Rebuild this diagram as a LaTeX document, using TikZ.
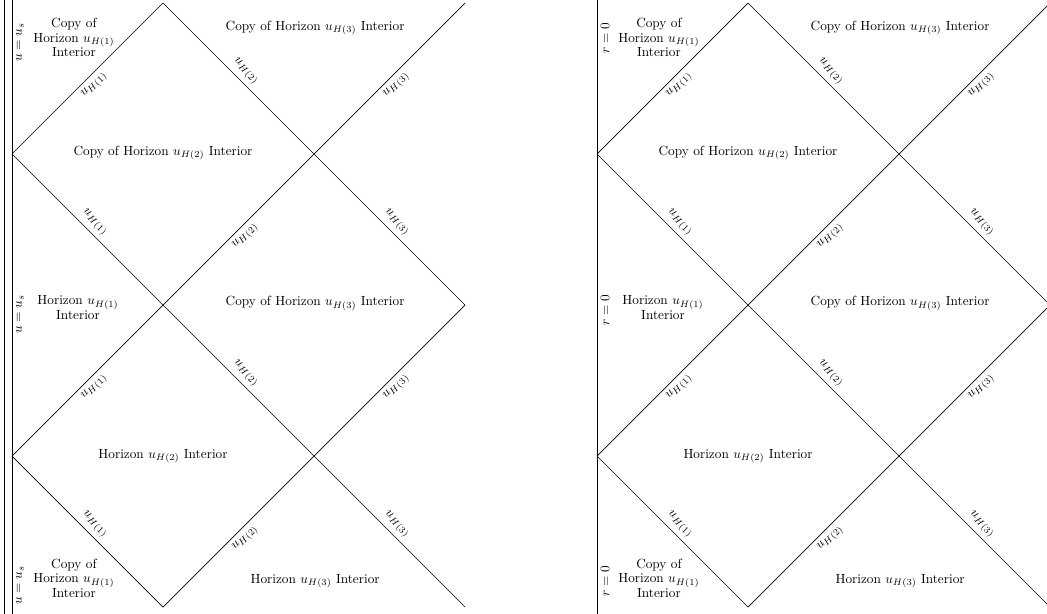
\documentclass[tikz,border=0pt]{standalone}
\usepackage{amsmath}
\usetikzlibrary{calc}

\begin{document}
\begin{tikzpicture}[x=4cm,y=4cm,line width=0.5pt,
		hlbl/.style={sloped,midway},
		region/.style={align=center,execute at begin node=\setlength{\baselineskip}{11pt}},
		bnd/.style={rotate=90,anchor=east}]
	\useasboundingbox (-0.0795,-0.046) rectangle (6.854,4.02);
	
	% Diagram kiri: batas u = u_s
	\coordinate (BotS) at (0,-0.06);
	\coordinate (TopS) at (0,4.03);
	\coordinate (ULS) at (0,3);
	\coordinate (LLS) at (0,1);
	\coordinate (TS) at (1,4);
	\coordinate (BS) at (1,0);
	\coordinate (MS) at (1,2);
	\coordinate (UCS) at (2,3);
	\coordinate (LCS) at (2,1);
	\coordinate (RS) at (3,2);
	\coordinate (URS) at (3,4);
	\coordinate (LRS) at (3,0);
	
	% batas ganda
	\draw (BotS)--(TopS);
	\draw[line width=0.8pt] ($(BotS)+(-0.05,0)$)--($(TopS)+(-0.05,0)$);
	
	% horizon
	\draw (ULS) -- node[hlbl,below] (a1S) {$u_{H(1)}$} (TS);
	\draw (TS) -- node[hlbl,above] (b2S) {$u_{H(2)}$} (UCS)
	-- node[hlbl,above] (b3S) {$u_{H(3)}$} (RS);
	\draw (ULS) -- node[hlbl,above] (c1S) {$u_{H(1)}$} (MS)
	-- node[hlbl,above] (c2S) {$u_{H(2)}$} (LCS)
	-- node[hlbl,above] (c3S) {$u_{H(3)}$} (LRS);
	\draw (LLS) -- node[hlbl,below] (d1S) {$u_{H(1)}$} (MS)
	-- node[hlbl,below] (d2S) {$u_{H(2)}$} (UCS)
	-- node[hlbl,below] (d3S) {$u_{H(3)}$} (URS);
	\draw (LLS) -- node[hlbl,above] (e1S) {$u_{H(1)}$} (BS);
	\draw (BS) -- node[hlbl,below] (f2S) {$u_{H(2)}$} (LCS)
	-- node[hlbl,below] (f3S) {$u_{H(3)}$} (RS);
	
	% daerah
	\node[region] (r1S) at (0.41,3.77) {Copy of\\Horizon $u_{H(1)}$\\Interior};
	\node[region] (r2S) at (2.007,3.834) {Copy of Horizon $u_{H(3)}$ Interior};
	\node[region] (r3S) at (1.0,3.005) {Copy of Horizon $u_{H(2)}$ Interior};
	\node[region] (r4S) at (0.437,1.983) {Horizon $u_{H(1)}$\\Interior};
	\node[region] (r5S) at (2.007,2.01) {Copy of Horizon $u_{H(3)}$ Interior};
	\node[region] (r6S) at (1.0,1.0) {Horizon $u_{H(2)}$ Interior};
	\node[region] (r7S) at (0.41,0.19) {Copy of\\Horizon $u_{H(1)}$\\Interior};
	\node[region] (r8S) at (2.007,0.172) {Horizon $u_{H(3)}$ Interior};
	
	\node[bnd] (s1S) at (0.053,3.90) {$u=u_s$};
	\node[bnd] (s2S) at (0.053,2.096) {$u=u_s$};
	\node[bnd] (s3S) at (0.053,0.305) {$u=u_s$};
	
	% Diagram kanan: batas r = 0
	\begin{scope}[shift={(3.874,0)}]
		\coordinate (BotZ) at (0,-0.06);
		\coordinate (TopZ) at (0,4.03);
		\coordinate (ULZ) at (0,3);
		\coordinate (LLZ) at (0,1);
		\coordinate (TZ) at (1,4);
		\coordinate (BZ) at (1,0);
		\coordinate (MZ) at (1,2);
		\coordinate (UCZ) at (2,3);
		\coordinate (LCZ) at (2,1);
		\coordinate (RZ) at (3,2);
		\coordinate (URZ) at (3,4);
		\coordinate (LRZ) at (3,0);
		
		\draw (BotZ)--(TopZ);
		
		\draw (ULZ) -- node[hlbl,below] (a1Z) {$u_{H(1)}$} (TZ);
		\draw (TZ) -- node[hlbl,above] (b2Z) {$u_{H(2)}$} (UCZ)
		-- node[hlbl,above] (b3Z) {$u_{H(3)}$} (RZ);
		\draw (ULZ) -- node[hlbl,above] (c1Z) {$u_{H(1)}$} (MZ)
		-- node[hlbl,above] (c2Z) {$u_{H(2)}$} (LCZ)
		-- node[hlbl,above] (c3Z) {$u_{H(3)}$} (LRZ);
		\draw (LLZ) -- node[hlbl,below] (d1Z) {$u_{H(1)}$} (MZ)
		-- node[hlbl,below] (d2Z) {$u_{H(2)}$} (UCZ)
		-- node[hlbl,below] (d3Z) {$u_{H(3)}$} (URZ);
		\draw (LLZ) -- node[hlbl,above] (e1Z) {$u_{H(1)}$} (BZ);
		\draw (BZ) -- node[hlbl,below] (f2Z) {$u_{H(2)}$} (LCZ)
		-- node[hlbl,below] (f3Z) {$u_{H(3)}$} (RZ);
		
		\node[region] (r1Z) at (0.41,3.77) {Copy of\\Horizon $u_{H(1)}$\\Interior};
		\node[region] (r2Z) at (2.007,3.834) {Copy of Horizon $u_{H(3)}$ Interior};
		\node[region] (r3Z) at (1.0,3.005) {Copy of Horizon $u_{H(2)}$ Interior};
		\node[region] (r4Z) at (0.437,1.983) {Horizon $u_{H(1)}$\\Interior};
		\node[region] (r5Z) at (2.007,2.01) {Copy of Horizon $u_{H(3)}$ Interior};
		\node[region] (r6Z) at (1.0,1.0) {Horizon $u_{H(2)}$ Interior};
		\node[region] (r7Z) at (0.41,0.19) {Copy of\\Horizon $u_{H(1)}$\\Interior};
		\node[region] (r8Z) at (2.007,0.172) {Horizon $u_{H(3)}$ Interior};
		
		\node[bnd] (s1Z) at (0.053,3.90) {$r=0$};
		\node[bnd] (s2Z) at (0.053,2.096) {$r=0$};
		\node[bnd] (s3Z) at (0.053,0.305) {$r=0$};
	\end{scope}
\end{tikzpicture}
\end{document}
